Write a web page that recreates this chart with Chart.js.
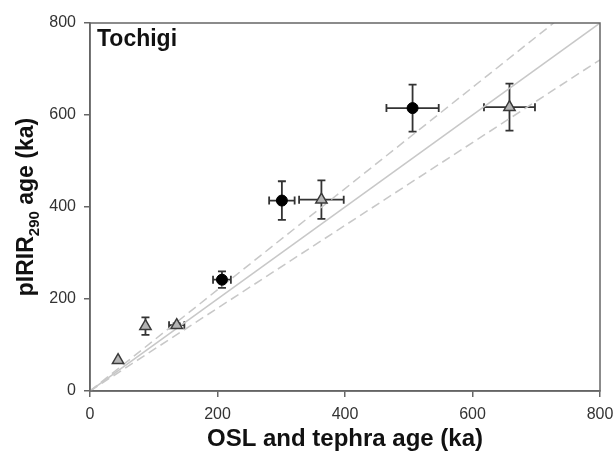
<!DOCTYPE html>
<html>
<head>
<meta charset="utf-8">
<script src="https://cdn.jsdelivr.net/npm/chart.js@4/dist/chart.umd.min.js"></script>
<style>
  html, body { margin:0; padding:0; background:#fff; }
  #wrap { width:614px; height:458px; }
</style>
</head>
<body>
<div id="wrap"><canvas id="chart" width="614" height="458"></canvas></div>
<script>
// data (ka)
const circleX = [207, 301, 506];
const circleY = [242, 414, 615];
const circleXErr = [14, 20, 41];
const circleYErr = [18, 42, 51];

const triX = [44, 87, 136, 363, 658];
const triY = [67, 141, 143, 416, 617];
const triXErr = [0, 0, 12, 35, 40];
const triYErr = [0, 19, 4, 42, 51];

const lineX = [0, 800];
const ratios = [1, 1.1, 0.9];   // 1:1 line and +/-10 % lines
const axisTicks = [0, 200, 400, 600, 800];

const FONT = '"Liberation Sans", Arial, sans-serif';
const AXIS_COL = '#666';

const pts = (xs, ys) => xs.map((x, i) => ({ x, y: ys[i] }));
const ratioLine = r => lineX.map(x => ({ x, y: x * r }));

// error bars drawn through the scales, under the markers
const errorBars = {
  id: 'errorBars',
  beforeDatasetsDraw(chart) {
    const { ctx, scales: { x, y } } = chart;
    ctx.save();
    ctx.strokeStyle = '#333';
    ctx.lineWidth = 1.8;
    const cap = 4;
    chart.data.datasets.forEach(ds => {
      if (!ds.errX) return;
      ds.data.forEach((p, i) => {
        const px = x.getPixelForValue(p.x), py = y.getPixelForValue(p.y);
        const ex = ds.errX[i], ey = ds.errY[i];
        ctx.beginPath();
        if (ex) {
          const x0 = x.getPixelForValue(p.x - ex), x1 = x.getPixelForValue(p.x + ex);
          ctx.moveTo(x0, py); ctx.lineTo(x1, py);
          ctx.moveTo(x0, py - cap); ctx.lineTo(x0, py + cap);
          ctx.moveTo(x1, py - cap); ctx.lineTo(x1, py + cap);
        }
        if (ey) {
          const y0 = y.getPixelForValue(p.y - ey), y1 = y.getPixelForValue(p.y + ey);
          ctx.moveTo(px, y0); ctx.lineTo(px, y1);
          ctx.moveTo(px - cap, y0); ctx.lineTo(px + cap, y0);
          ctx.moveTo(px - cap, y1); ctx.lineTo(px + cap, y1);
        }
        ctx.stroke();
      });
    });
    ctx.restore();
  }
};

// frame, site label and the y title with subscript
const decorations = {
  id: 'decorations',
  afterDraw(chart) {
    const { ctx, chartArea: a } = chart;
    ctx.save();
    ctx.strokeStyle = AXIS_COL;
    ctx.lineWidth = 1.5;
    ctx.strokeRect(a.left, a.top, a.right - a.left, a.bottom - a.top);

    ctx.fillStyle = '#111';
    ctx.font = 'bold 23px ' + FONT;
    ctx.textBaseline = 'alphabetic';
    ctx.textAlign = 'left';
    ctx.fillText('Tochigi', a.left + 7, a.top + 23);

    // y title, rotated
    const main = 'pIRIR', sub = '290', rest = ' age (ka)';
    const big = 'bold 23px ' + FONT, small = 'bold 15px ' + FONT;
    ctx.font = big; const w1 = ctx.measureText(main).width, w3 = ctx.measureText(rest).width;
    ctx.font = small; const w2 = ctx.measureText(sub).width;
    const total = w1 + w2 + w3;
    ctx.translate(33, (a.top + a.bottom) / 2);
    ctx.rotate(-Math.PI / 2);
    let cx = -total / 2;
    ctx.font = big; ctx.fillText(main, cx, 0); cx += w1;
    ctx.font = small; ctx.fillText(sub, cx, 6); cx += w2;
    ctx.font = big; ctx.fillText(rest, cx, 0);
    ctx.restore();
  }
};

const lineStyle = (r, dashed) => ({
  type: 'line',
  data: ratioLine(r),
  borderColor: '#c8c8c8',
  borderWidth: 1.5,
  borderDash: dashed ? [9, 5] : [],
  pointRadius: 0,
  fill: false,
  order: 3
});

new Chart(document.getElementById('chart'), {
  type: 'scatter',
  data: {
    datasets: [
      lineStyle(ratios[0], false),
      lineStyle(ratios[1], true),
      lineStyle(ratios[2], true),
      {
        label: 'circles',
        data: pts(circleX, circleY),
        errX: circleXErr, errY: circleYErr,
        pointStyle: 'circle', pointRadius: 5.5,
        backgroundColor: '#000', borderColor: '#000', borderWidth: 1,
        order: 1
      },
      {
        label: 'triangles',
        data: pts(triX, triY),
        errX: triXErr, errY: triYErr,
        pointStyle: 'triangle', pointRadius: 6.5,
        backgroundColor: '#b4b4b4', borderColor: '#3a3a3a', borderWidth: 1.5,
        order: 1
      }
    ]
  },
  options: {
    responsive: false,
    animation: false,
    layout: { padding: { top: 23, right: 0, left: 0, bottom: 0 } },
    plugins: { legend: { display: false }, tooltip: { enabled: false } },
    scales: {
      x: {
        type: 'linear', min: 0, max: 800,
        afterBuildTicks: s => { s.ticks = axisTicks.map(v => ({ value: v })); },
        afterFit: s => { s.height = 67; s.paddingRight = 14; },
        grid: { drawOnChartArea: false, drawTicks: true, tickLength: 6, color: AXIS_COL, lineWidth: 1.5 },
        border: { color: AXIS_COL, width: 1.5 },
        ticks: { color: '#333', font: { family: FONT, size: 16 }, padding: 8, maxRotation: 0 },
        title: { display: true, text: 'OSL and tephra age (ka)', color: '#111',
                 font: { family: FONT, size: 24, weight: 'bold' }, padding: { top: 0, bottom: 4 } }
      },
      y: {
        type: 'linear', min: 0, max: 800,
        afterBuildTicks: s => { s.ticks = axisTicks.map(v => ({ value: v })); },
        afterFit: s => { s.width = 90; },
        grid: { drawOnChartArea: false, drawTicks: true, tickLength: 6, color: AXIS_COL, lineWidth: 1.5 },
        border: { color: AXIS_COL, width: 1.5 },
        ticks: { color: '#333', font: { family: FONT, size: 16 }, padding: 8 }
      }
    }
  },
  plugins: [errorBars, decorations]
});
</script>
</body>
</html>
